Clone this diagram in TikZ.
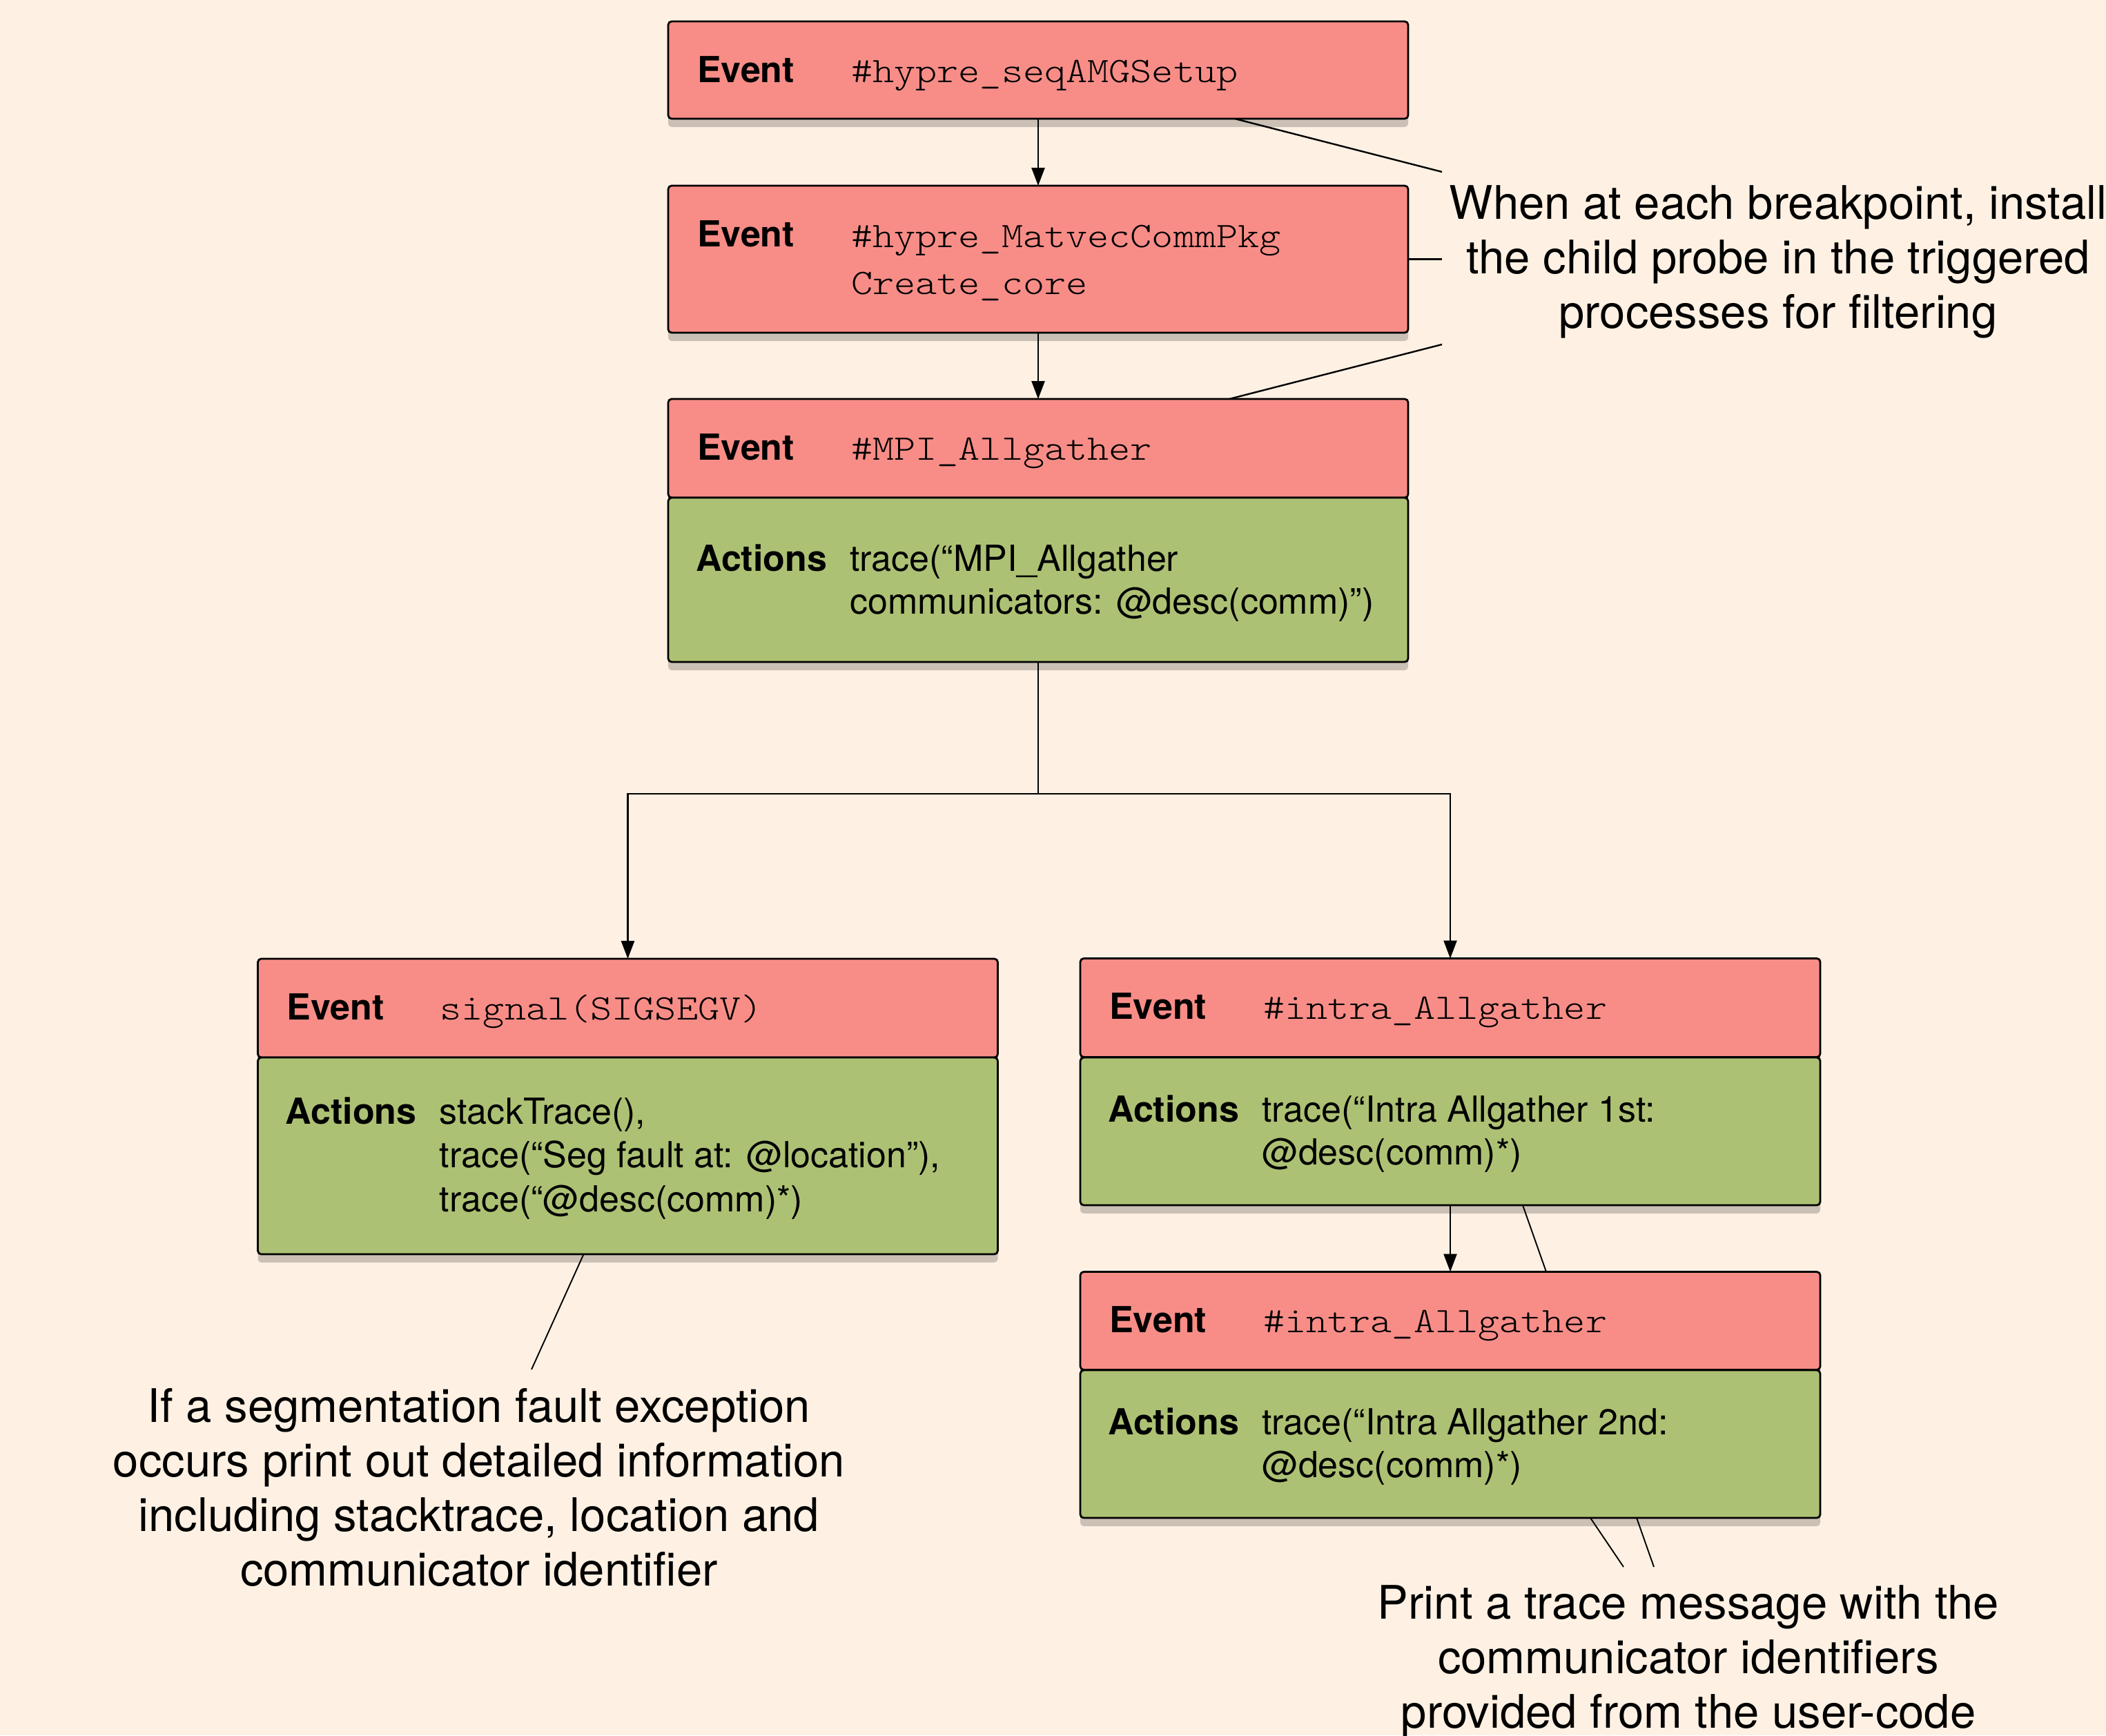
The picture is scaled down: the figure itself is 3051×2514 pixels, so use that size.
\documentclass[tikz,border=0pt]{standalone}
\usepackage{fontspec}
\setmainfont{TeX Gyre Heros}
\newfontfamily\codefont{lmmonolt10-regular.otf}[FakeStretch=1.14]
\usetikzlibrary{arrows.meta,shadows,calc}
\definecolor{bg}{RGB}{254,241,227}
\definecolor{evred}{RGB}{248,141,135}
\definecolor{actgreen}{RGB}{173,193,116}
\tikzset{
  box/.style={draw=black, line width=2.8pt, rounded corners=5pt, minimum width=1072pt,
    inner sep=0pt, outer sep=0pt,
    drop shadow={shadow xshift=0pt, shadow yshift=-12pt, opacity=0.2, fill=black}},
  evbox/.style={box, fill=evred},
  actbox/.style={box, fill=actgreen},
  lab/.style={anchor=base west, inner sep=0pt, font=\fontsize{52}{62}\bfseries},
  code/.style={anchor=base west, inner sep=0pt, align=left, font=\fontsize{52}{68.5}\selectfont\codefont},
  acttext/.style={anchor=base west, inner sep=0pt, align=left, font=\fontsize{52}{62}\selectfont},
  arr/.style={line width=2.6pt, -{Triangle[length=26pt,width=19pt]}},
  link/.style={line width=2.6pt},
  note/.style={line width=2.4pt},
  thinnote/.style={line width=1.9pt},
  notetext/.style={anchor=base, inner sep=0pt, align=center, font=\fontsize{67}{79}\selectfont},
}
\begin{document}
\begin{tikzpicture}[x=1pt,y=-1pt]
\fill[bg] (0,0) rectangle (3051,2514);
\useasboundingbox (0,0) rectangle (3051,2514);

% top chain (multi-line text nodes are anchored at the baseline of their last line)
\node[evbox, minimum height=141pt] (b1) at (1504,101.5) {};
\node[lab] (b1l) at ($(b1.north west)+(42,88)$) {Event};
\node[code] (b1c) at ($(b1.north west)+(265,88)$) {\#hypre\_seqAMGSetup};

\node[evbox, minimum height=213pt] (b2) at (1504,375.5) {};
\node[lab] (b2l) at ($(b2.north west)+(42,88)$) {Event};
\node[code] (b2c) at ($(b2.north west)+(265,157.5)$) {\#hypre\_MatvecCommPkg\\Create\_core};

\node[evbox, minimum height=143pt] (b3e) at (1504,649.5) {};
\node[lab] (b3l) at ($(b3e.north west)+(42,88)$) {Event};
\node[code] (b3c) at ($(b3e.north west)+(265,88)$) {\#MPI\_Allgather};
\node[actbox, minimum height=238pt] (b3a) at (1504,840) {};
\node[lab] (b3al) at ($(b3a.north west)+(40,106)$) {Actions};
\node[acttext] (b3at) at ($(b3a.north west)+(263,168)$) {trace(“MPI\_Allgather\\communicators: @desc(comm)”)};

% left branch
\node[evbox, minimum height=143pt] (se) at (909.5,1460.5) {};
\node[lab] (sel) at ($(se.north west)+(42,88)$) {Event};
\node[code] (sec) at ($(se.north west)+(264,88)$) {signal(SIGSEGV)};
\node[actbox, minimum height=285pt] (sa) at (909.5,1674.5) {};
\node[lab] (sal) at ($(sa.north west)+(40,96)$) {Actions};
\node[acttext, font=\fontsize{52}{63.5}\selectfont] (sat) at ($(sa.north west)+(263,223)$) {stackTrace(),\\trace(“Seg fault at: @location”),\\trace(“@desc(comm)*)};

% right branch
\node[evbox, minimum height=143pt] (i1e) at (2101,1460) {};
\node[lab] (i1l) at ($(i1e.north west)+(42,88)$) {Event};
\node[code] (i1c) at ($(i1e.north west)+(265,88)$) {\#intra\_Allgather};
\node[actbox, minimum height=214pt] (i1a) at (2101,1639) {};
\node[lab] (i1al) at ($(i1a.north west)+(40,93)$) {Actions};
\node[acttext] (i1at) at ($(i1a.north west)+(263,155)$) {trace(“Intra Allgather 1st:\\@desc(comm)*)};

\node[evbox, minimum height=142pt] (i2e) at (2101,1913.5) {};
\node[lab] (i2l) at ($(i2e.north west)+(42,88)$) {Event};
\node[code] (i2c) at ($(i2e.north west)+(265,88)$) {\#intra\_Allgather};
\node[actbox, minimum height=214pt] (i2a) at (2101,2092) {};
\node[lab] (i2al) at ($(i2a.north west)+(40,93)$) {Actions};
\node[acttext] (i2at) at ($(i2a.north west)+(263,155)$) {trace(“Intra Allgather 2nd:\\@desc(comm)*)};

% connectors
\draw[arr] (b1.south) -- (b2.north);
\draw[arr] (b2.south) -- (b3e.north);
\coordinate (jn) at ($(b3a.south)+(0,191)$);
\draw[link] (b3a.south) -- (jn);
\draw[arr] (jn) -| (se.north);
\draw[arr] (jn) -| (i1e.north);
\draw[arr] (i1a.south) -- (i2e.north);

% annotation texts
\node[notetext] (t1) at (2576,475) {When at each breakpoint, install\\the child probe in the triggered\\processes for filtering};
\node[notetext] (t2) at (694,2297) {If a segmentation fault exception\\occurs print out detailed information\\including stacktrace, location and\\communicator identifier};
\node[notetext] (t3) at (2446,2503) {Print a trace message with the\\communicator identifiers\\provided from the user-code};

% annotation lines
\coordinate (n1a) at (2089,249);
\coordinate (n1c) at (2089,499);
\draw[note] ([xshift=-251pt]b1.south east) -- (n1a);
\draw[note] (b2.east) -- +(49,0);
\draw[note] ([xshift=-259pt]b3e.north east) -- (n1c);
\coordinate (n2) at (770,1984);
\draw[thinnote] ([xshift=472pt]sa.south west) -- (n2);
\draw[thinnote] ([xshift=641pt]i1a.south west) -- ([xshift=675pt]i2e.north west);
\coordinate (n3a) at (2352,2270);
\coordinate (n3b) at (2396,2270);
\draw[thinnote] ([xshift=739pt]i2a.south west) -- (n3a);
\draw[thinnote] ([xshift=806pt]i2a.south west) -- (n3b);
\end{tikzpicture}
\end{document}
